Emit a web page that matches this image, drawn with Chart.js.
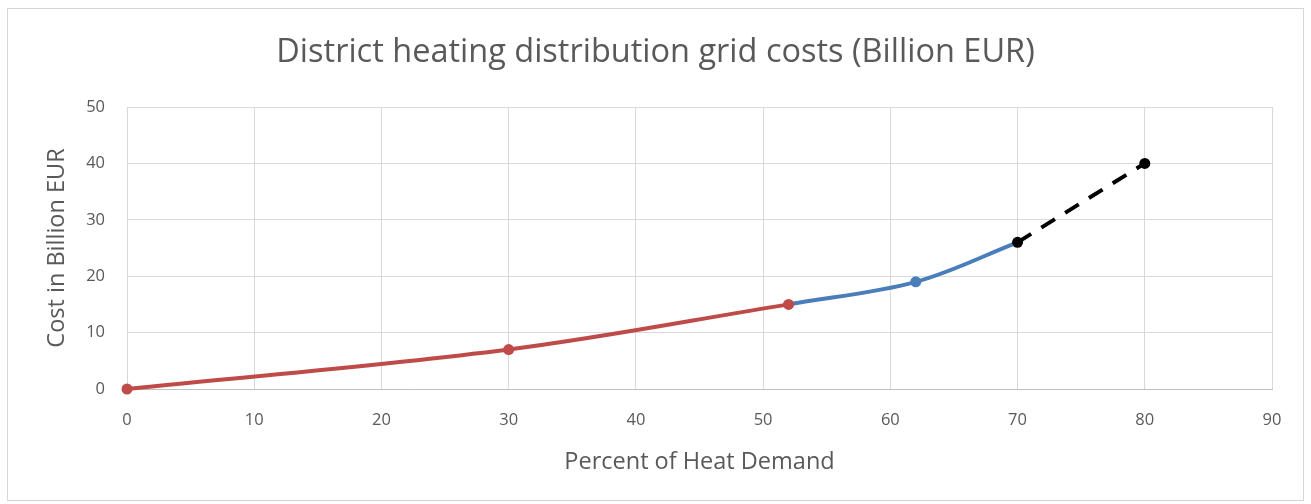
<!DOCTYPE html>
<html>
<head>
<meta charset="utf-8">
<script src="https://cdn.jsdelivr.net/npm/chart.js@4/dist/chart.umd.min.js"></script>
<style>
  html, body { margin: 0; padding: 0; background: #ffffff; }
  #wrap { position: relative; width: 1311px; height: 504px; }
  #frame {
    position: absolute; left: 7px; top: 8px; width: 1295px; height: 491px;
    border: 1px solid #d6d6d6; pointer-events: none;
  }
  canvas { position: absolute; left: 0; top: 0; }
</style>
</head>
<body>
<div id="wrap">
  <canvas id="chart" width="1311" height="504"></canvas>
  <div id="frame"></div>
</div>
<script>
// Values
const redX = [0, 30, 52];
const redY = [0, 7, 15];
const blueX = [52, 62, 70];
const blueY = [15, 19, 26];
const dashX = [70, 80];
const dashY = [26, 40];

const xTicks = [0, 10, 20, 30, 40, 50, 60, 70, 80, 90];
const yTicks = [0, 10, 20, 30, 40, 50];

const textColor = '#595959';
const gridColor = '#d9d9d9';
const fontFamily = '"Open Sans", Lato, sans-serif';

function toPoints(xs, ys) {
    return xs.map((x, i) => ({ x: x, y: ys[i] }));
}

const ctx = document.getElementById('chart').getContext('2d');
new Chart(ctx, {
    type: 'scatter',
    data: {
        datasets: [
            {
                label: 'red',
                data: toPoints(redX, redY),
                showLine: true,
                borderColor: '#be4b48',
                backgroundColor: '#be4b48',
                borderWidth: 4,
                tension: 0.35,
                pointRadius: 5.5,
                pointBorderWidth: 0,
                clip: false,
                order: 0
            },
            {
                label: 'black',
                data: toPoints(dashX, dashY),
                showLine: true,
                borderColor: '#000000',
                backgroundColor: '#000000',
                borderWidth: 4,
                borderDash: [16, 12],
                pointRadius: 5.5,
                pointBorderWidth: 0,
                clip: false,
                order: 1
            },
            {
                label: 'blue',
                data: toPoints(blueX, blueY),
                showLine: true,
                borderColor: '#4a7ebb',
                backgroundColor: '#4a7ebb',
                borderWidth: 4,
                tension: 0.35,
                pointRadius: [0, 5.5, 0],
                pointBorderWidth: 0,
                clip: false,
                order: 2
            }
        ]
    },
    options: {
        responsive: false,
        animation: false,
        layout: { padding: 0 },
        plugins: {
            legend: { display: false },
            tooltip: { enabled: false },
            title: {
                display: true,
                text: 'District heating distribution grid costs (Billion EUR)',
                color: textColor,
                font: { family: fontFamily, size: 32.5, weight: 'normal', lineHeight: 1.2 },
                padding: { top: 33, bottom: 35 }
            }
        },
        scales: {
            x: {
                type: 'linear',
                min: 0,
                max: 90,
                afterBuildTicks: (scale) => { scale.ticks = xTicks.map(v => ({ value: v })); },
                afterFit: (scale) => { scale.height = 115; },
                grid: { color: gridColor, drawTicks: false },
                border: { color: '#bfbfbf' },
                ticks: {
                    color: textColor,
                    padding: 21,
                    font: { family: fontFamily, size: 16.5 }
                },
                title: {
                    display: true,
                    text: 'Percent of Heat Demand',
                    color: textColor,
                    font: { family: fontFamily, size: 23.5, lineHeight: 1.2 },
                    padding: { top: 0, bottom: 28 }
                }
            },
            y: {
                type: 'linear',
                min: 0,
                max: 50,
                afterBuildTicks: (scale) => { scale.ticks = yTicks.map(v => ({ value: v })); },
                afterFit: (scale) => { scale.width = 127; },
                grid: { color: gridColor, drawTicks: false },
                border: { display: false },
                ticks: {
                    color: textColor,
                    padding: 22,
                    font: { family: fontFamily, size: 16.5 }
                },
                title: {
                    display: true,
                    text: 'Cost in Billion EUR',
                    color: textColor,
                    font: { family: fontFamily, size: 23.5, lineHeight: 1.2 },
                    padding: { top: 43, bottom: 0 }
                }
            },
            // empty right-hand strip, keeps the plot edge at 90 where the reference has it
            yRight: {
                position: 'right',
                min: 0,
                max: 50,
                afterFit: (scale) => { scale.width = 39; },
                grid: { display: false },
                border: { display: false },
                ticks: { display: false }
            }
        }
    }
});
</script>
</body>
</html>
